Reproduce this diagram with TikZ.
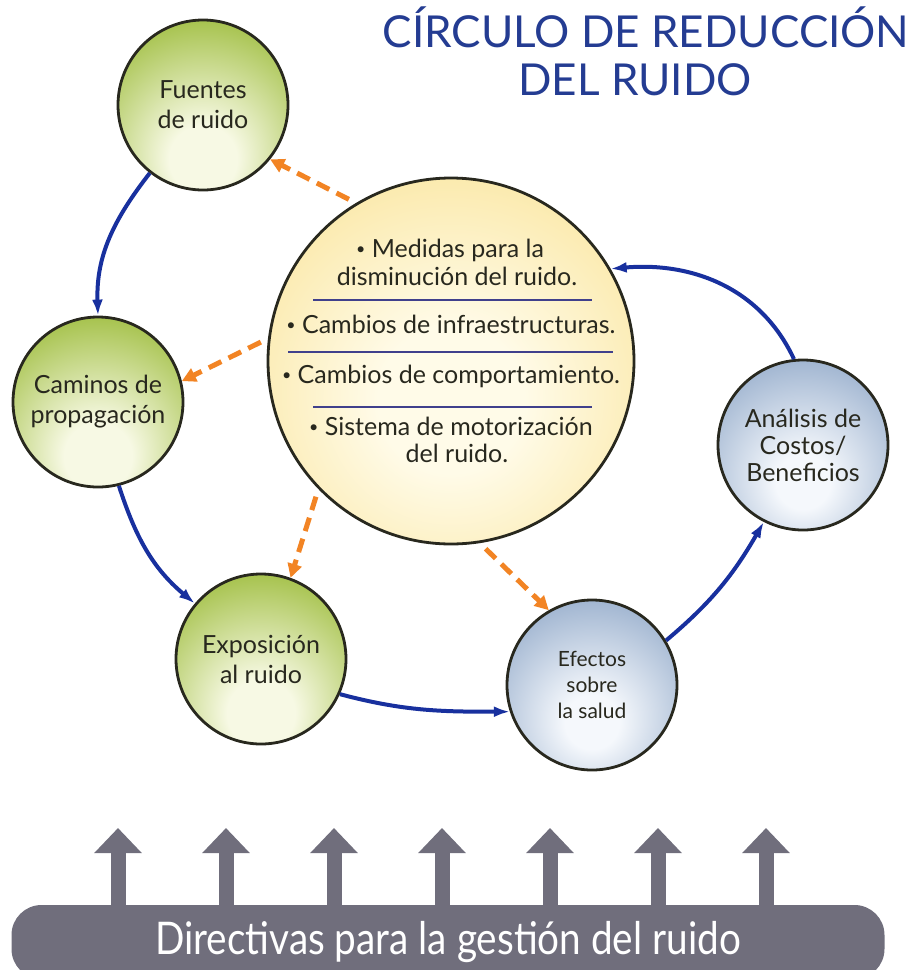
\documentclass[tikz,border=0pt]{standalone}
\usepackage{fontspec}
\setmainfont{Lato}
\newfontfamily\estrecha[FakeStretch=0.86]{Lato}
\usetikzlibrary{arrows.meta}

\definecolor{verde}{RGB}{154,186,54}
\definecolor{verdeclaro}{RGB}{247,249,228}
\definecolor{azul}{RGB}{116,146,186}
\definecolor{azulclaro}{RGB}{245,248,252}
\definecolor{amarillo}{RGB}{247,216,112}
\definecolor{amarilloclaro}{RGB}{255,251,232}
\definecolor{titulo}{RGB}{36,60,146}
\definecolor{flecha}{RGB}{24,48,158}
\definecolor{naranja}{RGB}{242,132,36}
\definecolor{gris}{RGB}{112,110,124}
\definecolor{texto}{RGB}{40,40,30}
\definecolor{regla}{RGB}{64,64,140}

\pgfdeclareradialshading{bolaverde}{\pgfpoint{0bp}{-18bp}}{color(0bp)=(verdeclaro); color(10bp)=(verdeclaro); color(40bp)=(verde); color(90bp)=(verde)}
\pgfdeclareradialshading{bolaazul}{\pgfpoint{0bp}{-12bp}}{color(0bp)=(azulclaro); color(8bp)=(azulclaro); color(46bp)=(azul); color(90bp)=(azul)}
\pgfdeclareradialshading{bolaamarilla}{\pgfpoint{0bp}{-6bp}}{color(0bp)=(amarilloclaro); color(10bp)=(amarilloclaro); color(32bp)=(amarillo!55!amarilloclaro); color(50bp)=(amarillo); color(90bp)=(amarillo)}

\newcommand{\punto}{\raisebox{1.3pt}{\fontsize{8}{8}\selectfont•}}

\begin{document}
\begin{tikzpicture}[
        x=0.5pt, y=0.5pt,
        bola/.style={
            circle, draw=texto, line width=1.4pt,
            minimum size=85pt, inner sep=0pt,
            align=center, text=texto,
            font=\fontsize{12.5}{15}\selectfont
        },
        bolaverde/.style={bola, shading=bolaverde},
        bolaazul/.style={bola, shading=bolaazul},
        ciclo/.style={
            draw=flecha, line width=2pt,
            -{Latex[length=8pt,width=5.5pt]}
        },
        accion/.style={
            draw=naranja, line width=2.5pt,
            dash pattern=on 7pt off 4pt,
            shorten <=4pt,
            -{Triangle[length=7pt,width=7pt]}
        },
        linea/.style={text=texto, anchor=base, font=\fontsize{12.5}{14}\selectfont},
        subida/.style={
            draw=gris, line width=7.5pt,
            -{Triangle[length=12.5pt,width=23pt]}
        }
    ]

    \useasboundingbox (0,0) rectangle (915,-970);

    % Título
    \node[anchor=base, text=titulo, font=\fontsize{22}{24}\selectfont] (titulo1) at (646,-47) {CÍRCULO DE REDUCCIÓN};
    \node[anchor=base, text=titulo, font=\fontsize{22}{24}\selectfont] (titulo2) at (635,-95) {DEL RUIDO};

    % Círculo central
    \node[circle, draw=texto, line width=1.4pt, minimum size=183pt, shading=bolaamarilla] (medidas) at (451,-361) {};

    \foreach \x/\y/\t [count=\i] in {
        450/257/{\punto\ Medidas para la},
        457/285/{disminución del ruido.},
        451/333/{\punto\ Cambios de infraestructuras.},
        451/383/{\punto\ Cambios de comportamiento.},
        451/435/{\punto\ Sistema de motorización},
        457/462/{del ruido.}}
        \node[linea] (m\i) at (\x,-\y) {\t};

    \draw[regla, line width=0.9pt] (313,-300) -- (592,-300);
    \draw[regla, line width=0.9pt] (288,-352) -- (613,-352);
    \draw[regla, line width=0.9pt] (313,-407) -- (592,-407);

    % Etapas del ciclo
    \node[bolaverde] (fuentes) at (203,-105) {Fuentes\\de ruido};
    \node[bolaverde] (caminos) at (98,-402) {Caminos de\\propagación};
    \node[bolaverde] (expo) at (261,-659) {Exposición\\al ruido};
    \node[bolaazul, font=\fontsize{10.5}{13}\selectfont] (efectos) at (592,-685) {Efectos\\sobre\\la salud};
    \node[bolaazul, font=\fontsize{12.5}{13.5}\selectfont] (analisis) at (803,-445) {Análisis de\\Costos/\\Beneficios};

    % Flechas del ciclo
    \draw[ciclo] (fuentes.232) to[out=232,in=92] (caminos.90);
    \draw[ciclo] (caminos.284) to[out=-72,in=140] (expo.140);
    \draw[ciclo] (expo.-24) to[out=-15,in=180] (efectos.198);
    \draw[ciclo] (efectos.31) to[out=40,in=240] (analisis.243);
    \draw[ciclo] (analisis.96) to[out=115,in=5] (medidas.30);

    % Medidas sobre cada etapa
    \draw[accion] (medidas.121) -- (fuentes.-39);
    \draw[accion] (medidas.173) -- (caminos.14);
    \draw[accion] (medidas.224) -- (expo.70);
    \draw[accion] (medidas.279) -- (efectos.120);

    % Directivas
    \node[fill=gris, rounded corners=15pt, minimum width=436.5pt, minimum height=37pt,
        text=white, font=\estrecha\fontsize{22.5}{24}\selectfont] (directivas) at (448,-942) {Directivas para la gestión del ruido};

    \foreach \x [count=\i] in {118,226,334,442,550,658,766} {
        \coordinate (pie\i) at (\x,-905);
        \draw[subida] (pie\i) -- ++(0,77);
    }

\end{tikzpicture}
\end{document}
